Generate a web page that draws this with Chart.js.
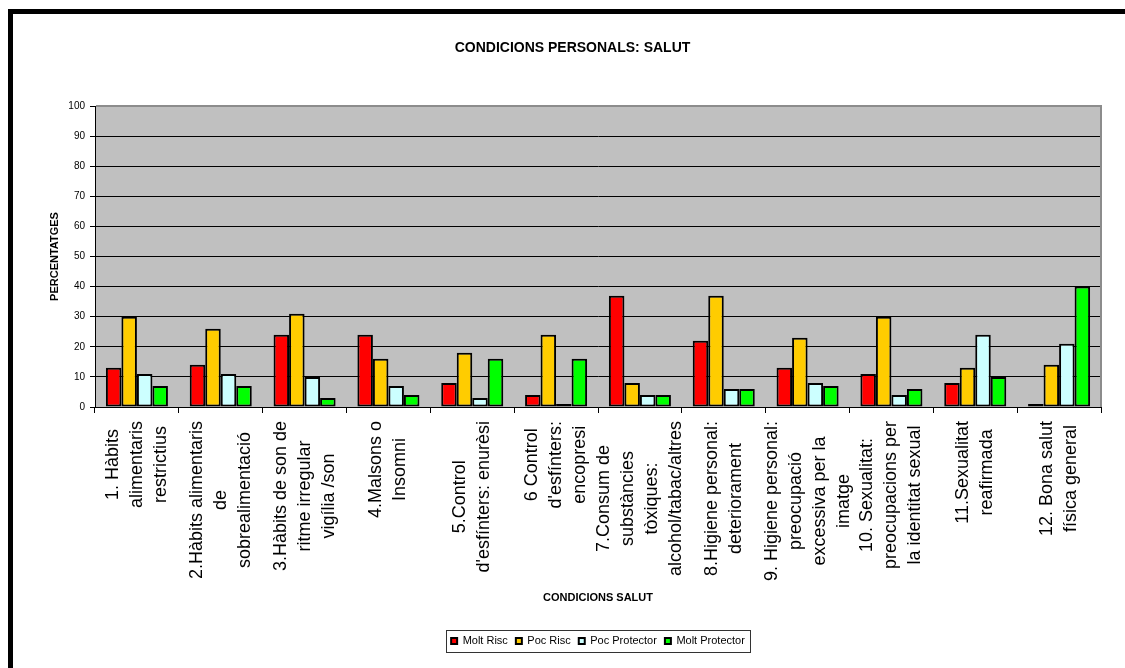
<!DOCTYPE html>
<html>
<head>
<meta charset="utf-8">
<script src="https://cdn.jsdelivr.net/npm/chart.js@4.4.1/dist/chart.umd.min.js"></script>
<style>
    body{margin:0;background:#fff;overflow:hidden;}
    #marc{position:absolute;left:8px;top:9px;width:1117px;height:659px;border-top:5px solid #000;border-left:5px solid #000;box-sizing:border-box;}
    #grafico{position:absolute;left:0;top:0;}
</style>
</head>
<body>
<div id="marc"></div>
<canvas id="grafico" width="1125" height="668"></canvas>
<script>
var categories=[
    ["1. Hàbits","alimentaris","restrictius"],
    ["2.Hàbits alimentaris","de","sobrealimentació"],
    ["3.Hàbits de son de","ritme irregular","vigília /son"],
    ["4.Malsons o","Insomni"],
    ["5.Control","d'esfínters: enurèsi"],
    ["6 Control","d'esfínters:","encopresi"],
    ["7.Consum de","substàncies","tòxiques:","alcohol/tabac/altres"],
    ["8.Higiene personal:","deteriorament"],
    ["9. Higiene personal:","preocupació","excessiva per la","imatge"],
    ["10. Sexualitat:","preocupacions per","la identitat sexual"],
    ["11.Sexualitat","reafirmada"],
    ["12. Bona salut","física general"]
];
var molt_risc=[13,14,24,24,8,4,37,22,13,11,8,1];
var poc_risc=[30,26,31,16,18,24,8,37,23,30,13,14];
var poc_protector=[11,11,10,7,3,1,4,6,8,4,24,21];
var molt_protector=[7,7,3,4,16,16,4,6,7,6,10,40];
var y_ticks=[0,10,20,30,40,50,60,70,80,90,100];

var FONT="'Liberation Sans', Arial, sans-serif";
Chart.defaults.font.family=FONT;
Chart.defaults.color="#000";

// fons gris de la zona del grafic
var fons={
    id:"fons",
    beforeDraw(chart){
        var a=chart.chartArea, ctx=chart.ctx;
        ctx.save();
        ctx.fillStyle="#C0C0C0";
        ctx.fillRect(a.left,a.top,a.right-a.left,a.bottom-a.top);
        ctx.restore();
    },
    beforeDatasetsDraw(chart){
        var a=chart.chartArea, ctx=chart.ctx;
        ctx.save();
        ctx.strokeStyle="#8c8c8c";
        ctx.lineWidth=2;
        ctx.beginPath();
        ctx.moveTo(a.left+1,a.top);
        ctx.lineTo(a.right,a.top);
        ctx.lineTo(a.right,a.bottom);
        ctx.stroke();
        ctx.restore();
    }
};

// etiquetes de l'eix x, girades i centrades
var etiquetes={
    id:"etiquetes",
    afterDraw(chart){
        var xs=chart.scales.x, ctx=chart.ctx;
        var lh=24;
        ctx.save();
        ctx.font="18px "+FONT;
        ctx.fillStyle="#000";
        ctx.textAlign="center";
        ctx.textBaseline="middle";
        chart.data.labels.forEach(function(lines,i){
            var maxW=0;
            lines.forEach(function(l){maxW=Math.max(maxW,ctx.measureText(l).width);});
            var cx=xs.getPixelForTick(i);
            ctx.save();
            ctx.translate(cx,xs.top+14+maxW/2);
            ctx.rotate(-Math.PI/2);
            lines.forEach(function(l,j){
                ctx.fillText(l,0,(j-(lines.length-1)/2)*lh);
            });
            ctx.restore();
        });
        ctx.restore();
    }
};

// requadre de la llegenda
var requadre={
    id:"requadre",
    afterDraw(chart){
        var lg=chart.legend, ctx=chart.ctx;
        if(!lg || !lg.legendHitBoxes.length) return;
        var hb=lg.legendHitBoxes;
        var l=hb[0].left, r=0, t=hb[0].top, b=0;
        hb.forEach(function(h){
            l=Math.min(l,h.left); r=Math.max(r,h.left+h.width);
            t=Math.min(t,h.top); b=Math.max(b,h.top+h.height);
        });
        ctx.save();
        ctx.strokeStyle="#333";
        ctx.lineWidth=1;
        ctx.strokeRect(Math.round(l-5)+0.5,Math.round(t-6)+0.5,Math.round(r-l+10),Math.round(b-t+11));
        ctx.restore();
    }
};

var dades={
    labels:categories,
    datasets:[
        {label:"Molt Risc",data:molt_risc,backgroundColor:"#FF0000"},
        {label:"Poc Risc",data:poc_risc,backgroundColor:"#FFCC00"},
        {label:"Poc Protector",data:poc_protector,backgroundColor:"#CCFFFF"},
        {label:"Molt Protector",data:molt_protector,backgroundColor:"#00FF00"}
    ]
};
dades.datasets.forEach(function(d){
    d.borderColor="#000";
    d.borderWidth=2;
    d.borderSkipped=false;
    d.barPercentage=1;
    d.categoryPercentage=0.74;
});

var config={
    type:"bar",
    data:dades,
    plugins:[fons,etiquetes,requadre],
    options:{
        responsive:false,
        animation:false,
        layout:{padding:{left:44,right:24,top:0,bottom:11.5}},
        plugins:{
            title:{
                display:true,
                text:"CONDICIONS PERSONALS: SALUT",
                font:{size:14,weight:"bold"},
                color:"#000",
                padding:{top:40,bottom:49.2}
            },
            legend:{
                position:"bottom",
                fullSize:false,
                labels:{
                    boxWidth:6,
                    boxHeight:6,
                    padding:8,
                    font:{size:11},
                    color:"#000"
                }
            },
            tooltip:{enabled:false}
        },
        scales:{
            x:{
                grid:{drawOnChartArea:false,drawTicks:true,tickLength:6,color:"#000",offset:true},
                border:{color:"#000",width:1},
                ticks:{display:false},
                title:{
                    display:true,
                    text:"CONDICIONS SALUT",
                    font:{size:11,weight:"bold"},
                    color:"#000",
                    padding:{top:0,bottom:22.9}
                },
                afterFit:function(s){s.height=220.5;}
            },
            y:{
                min:0,
                max:100,
                afterBuildTicks:function(s){s.ticks=y_ticks.map(function(v){return {value:v};});},
                grid:{color:"#000",tickLength:5,drawTicks:true},
                border:{color:"#000",width:1},
                ticks:{font:{size:10},color:"#000",padding:5},
                title:{
                    display:true,
                    text:"PERCENTATGES",
                    font:{size:11,weight:"bold"},
                    color:"#000",
                    padding:{top:4,bottom:0}
                },
                afterFit:function(s){s.width=51;}
            }
        }
    }
};

var ctx=document.getElementById("grafico").getContext("2d");
var g=new Chart(ctx,config);
</script>
</body>
</html>
